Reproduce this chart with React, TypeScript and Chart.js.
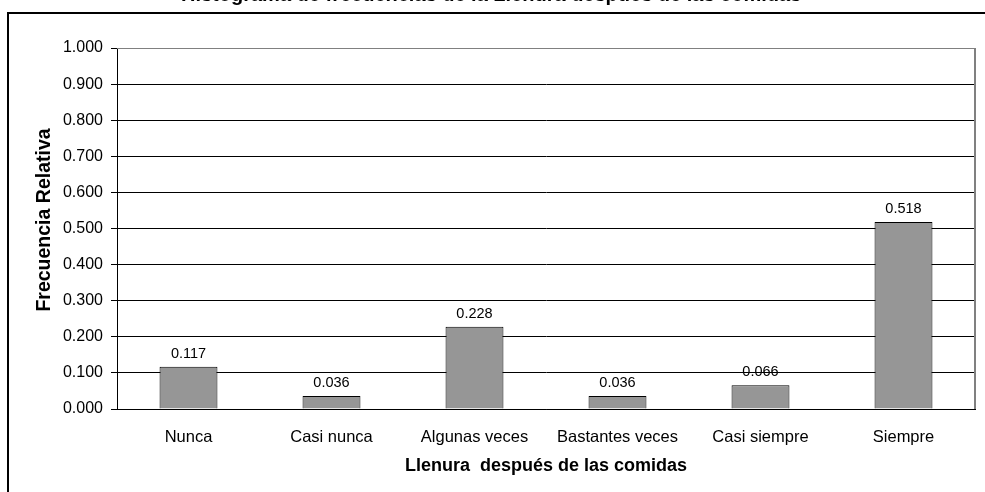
import React, { useEffect, useRef } from 'react';
import { Chart, registerables } from 'chart.js';

Chart.register(...registerables);

const categories = ['Nunca', 'Casi nunca', 'Algunas veces', 'Bastantes veces', 'Casi siempre', 'Siempre'];
const values = [0.117, 0.036, 0.228, 0.036, 0.066, 0.518];
const chartTitle = 'Histograma de frecuencias de la Llenura después de las comidas';
const xTitle = 'Llenura  después de las comidas';
const yTitle = 'Frecuencia Relativa';
const yMin = 0;
const yMax = 1;
const yStep = 0.1;

const FONT = "'Liberation Sans', Arial, sans-serif";

export default function App() {
  const ref = useRef<HTMLCanvasElement>(null);

  useEffect(() => {
    if (!ref.current) return;
    const decor = {
      id: 'decor',
      beforeDraw(chart: any) {
        const ctx = chart.ctx;
        ctx.save();
        ctx.fillStyle = '#ffffff';
        ctx.fillRect(0, 0, chart.width, chart.height);
        // outer frame (cropped)
        ctx.strokeStyle = '#000000';
        ctx.lineWidth = 2;
        ctx.beginPath();
        ctx.moveTo(8, chart.height + 5);
        ctx.lineTo(8, 13);
        ctx.lineTo(chart.width + 5, 13);
        ctx.stroke();
        // title (cropped at top)
        ctx.fillStyle = '#000000';
        ctx.font = `bold 20px ${FONT}`;
        ctx.textAlign = 'left';
        ctx.textBaseline = 'alphabetic';
        ctx.fillText(chartTitle, 181, 0.5);
        // y axis title
        ctx.font = `bold 19.5px ${FONT}`;
        ctx.textAlign = 'center';
        ctx.textBaseline = 'middle';
        ctx.translate(45, 220);
        ctx.rotate(-Math.PI / 2);
        ctx.fillText(yTitle, 0, 0);
        ctx.restore();
      },
      afterDraw(chart: any) {
        const ctx = chart.ctx;
        const a = chart.chartArea;
        ctx.save();
        ctx.strokeStyle = '#808080';
        ctx.lineWidth = 1;
        ctx.beginPath();
        ctx.moveTo(a.left, Math.round(a.top) + 0.5);
        ctx.lineTo(a.right, Math.round(a.top) + 0.5);
        ctx.stroke();
        ctx.lineWidth = 2;
        ctx.beginPath();
        ctx.moveTo(Math.round(a.right), a.top);
        ctx.lineTo(Math.round(a.right), a.bottom);
        ctx.stroke();
        // data labels
        const meta = chart.getDatasetMeta(0);
        ctx.fillStyle = '#000000';
        ctx.font = `14.5px ${FONT}`;
        ctx.textAlign = 'center';
        ctx.textBaseline = 'middle';
        meta.data.forEach((bar: any, i: number) => {
          ctx.fillText(values[i].toFixed(3), bar.x, bar.y - 13);
        });
        ctx.restore();
      },
    };

    const chart = new Chart(ref.current, {
      type: 'bar',
      data: {
        labels: categories,
        datasets: [
          {
            data: values,
            backgroundColor: '#969696',
            borderColor: '#000000',
            borderWidth: 1,
            barPercentage: 1,
            categoryPercentage: 0.405,
          },
        ],
      },
      options: {
        responsive: false,
        animation: false,
        devicePixelRatio: 1,
        layout: { padding: { left: 0, top: 48, right: 10, bottom: 0 } },
        plugins: {
          legend: { display: false },
          title: { display: false },
          tooltip: { enabled: false },
        },
        scales: {
          x: {
            grid: { display: false, drawTicks: false },
            border: { display: true, color: '#000000', width: 1 },
            ticks: {
              color: '#000000',
              font: { family: FONT, size: 16.5 },
              padding: 19,
              maxRotation: 0,
              autoSkip: false,
            },
            title: {
              display: true,
              text: xTitle,
              color: '#000000',
              font: { family: FONT, size: 18, weight: 'bold' },
              padding: { top: 0, bottom: 15 },
            },
            afterFit: (s: any) => {
              s.height = 83;
            },
          },
          y: {
            min: yMin,
            max: yMax,
            grid: {
              color: '#000000',
              lineWidth: 1,
              drawTicks: true,
              tickLength: 6,
              tickColor: '#000000',
            },
            border: { display: true, color: '#000000', width: 1 },
            ticks: {
              stepSize: yStep,
              color: '#000000',
              font: { family: FONT, size: 16 },
              padding: 8,
              callback: (v: any) => Number(v).toFixed(3),
            },
            title: { display: false },
            afterFit: (s: any) => {
              s.width = 117;
            },
          },
        },
      },
      plugins: [decor],
    });
    return () => chart.destroy();
  }, []);

  return (
    <div style={{ position: 'fixed', left: 0, top: 0, width: 985, height: 492, background: '#fff' }}>
      <canvas ref={ref} width={985} height={492} style={{ display: 'block' }} />
    </div>
  );
}
